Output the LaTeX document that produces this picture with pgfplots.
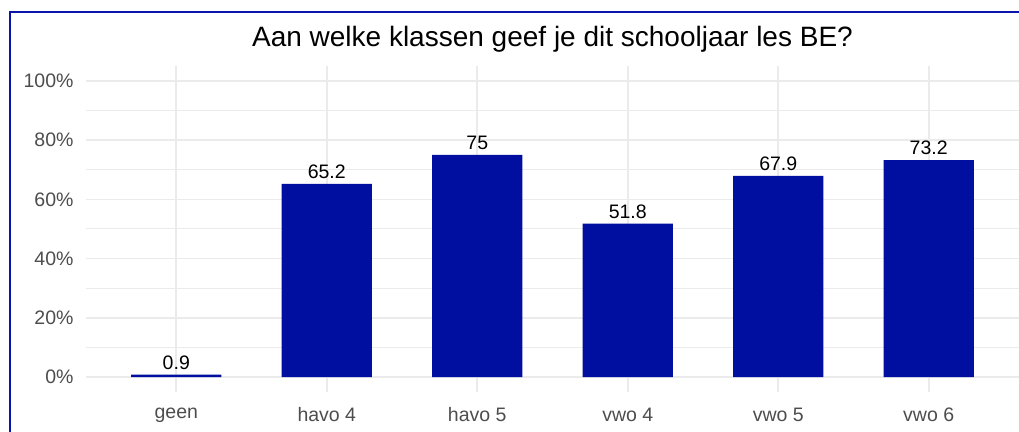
\documentclass[border=0pt]{standalone}
\usepackage{pgfplots}
\pgfplotsset{compat=1.18}
\usepackage{fontspec}
\setmainfont{Liberation Sans}
\definecolor{barblue}{RGB}{0,15,160}
\definecolor{frameblue}{RGB}{10,20,170}
\definecolor{gridc}{RGB}{235,235,235}
\definecolor{tickc}{RGB}{77,77,77}
\begin{document}
\begin{tikzpicture}
\useasboundingbox (0bp,0bp) rectangle (1019bp,432bp);
\draw[frameblue, line width=2bp] (10bp,0bp) -- (10bp,419.5bp) -- (1019bp,419.5bp);
\node[anchor=base, font=\fontsize{28bp}{33bp}\selectfont, inner sep=0pt] at (552.5bp,385.5bp) {Aan welke klassen geef je dit schooljaar les BE?};
\begin{axis}[
  at={(86bp,40bp)}, anchor=south west,
  scale only axis, width=933bp, height=326bp,
  xmin=-0.6, xmax=5.6, ymin=-5, ymax=105,
  axis line style={draw=none},
  major tick style={draw=none}, minor tick style={draw=none},
  xtick={0,1,2,3,4,5},
  xticklabels={geen,havo 4,havo 5,vwo 4,vwo 5,vwo 6},
  ytick={0,20,40,60,80,100},
  minor ytick={10,30,50,70,90},
  /pgf/number format/assume math mode=true,
  yticklabel={\pgfmathprintnumber{\tick}\%},
  ticklabel style={font=\fontsize{19.5bp}{23bp}\selectfont, text=tickc},
  xticklabel style={yshift=-8bp},
  yticklabel style={xshift=-9bp},
  xmajorgrids, ymajorgrids, yminorgrids,
  major grid style={gridc, line width=1.6bp},
  minor grid style={gridc, line width=1bp},
  ybar, bar width=0.6,
  nodes near coords,
  nodes near coords style={font=\fontsize{19.5bp}{23bp}\selectfont, text=black, anchor=south, inner sep=0pt, yshift=5bp},
]
\addplot[fill=barblue, draw=none] coordinates {(0,0.9) (1,65.2) (2,75) (3,51.8) (4,67.9) (5,73.2)};
\end{axis}
\end{tikzpicture}
\end{document}
